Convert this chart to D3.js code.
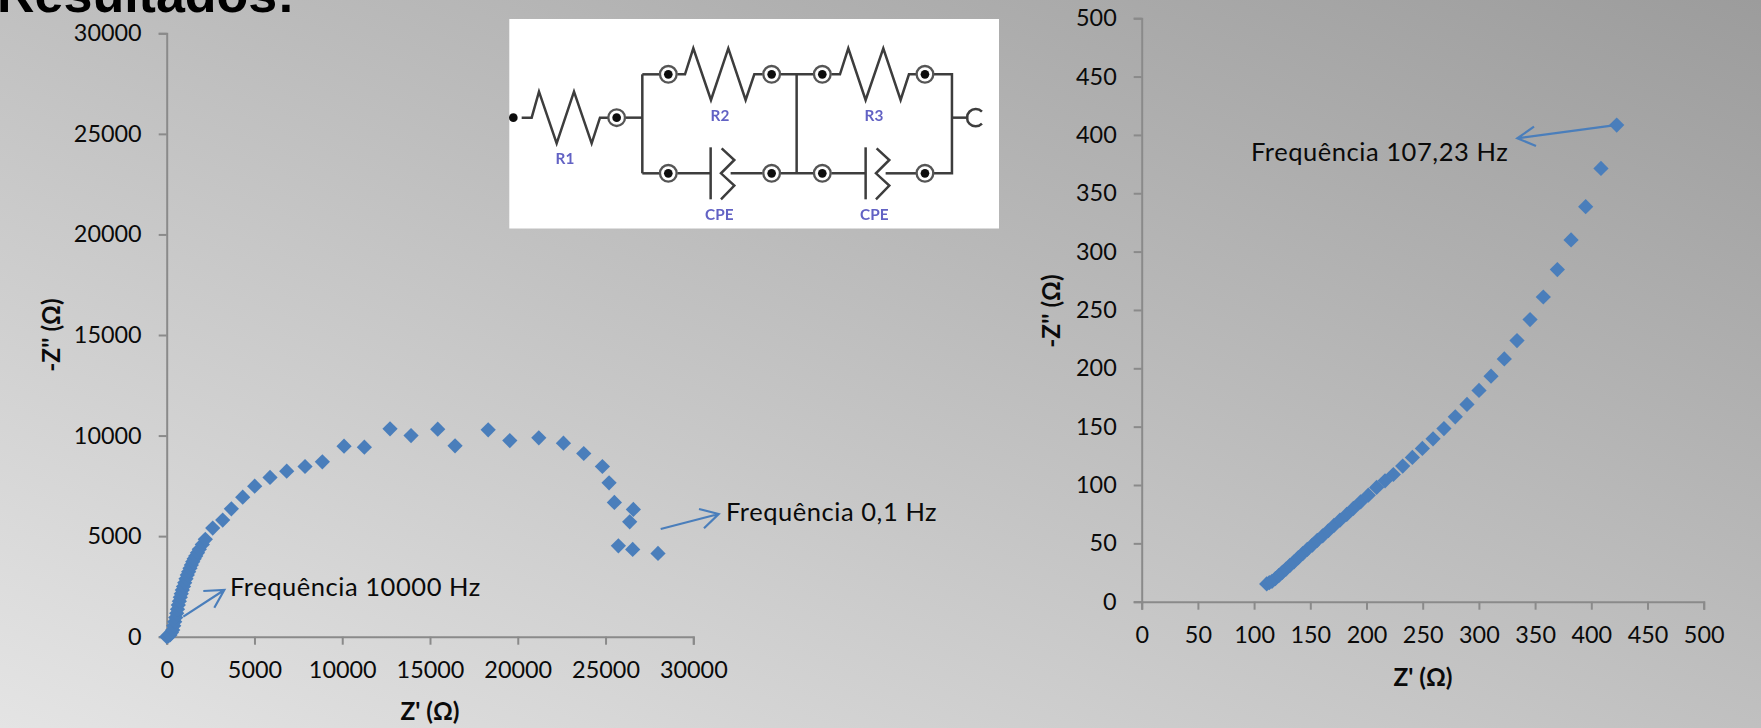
<!DOCTYPE html>
<html><head><meta charset="utf-8">
<script src="https://cdn.jsdelivr.net/npm/d3@7/dist/d3.min.js"></script>
<style>html,body{margin:0;padding:0;overflow:hidden;background:#bbb}svg{display:block}</style>
</head><body><svg id="c" width="1761" height="728"></svg>
<script>
// Left Nyquist plot (full range)
const leftZre = [0,100,190,270,342,400,456,515,570,615,661,720,775,830,889,958,1026,1100,1174,1250,1328,1405,1482,1565,1653,1755,1858,2030,2200,2622,3190,3684,4330,5013,5887,6837,7881,8868,10103,11261,12723,13920,15440,16427,18315,19547,21198,22602,23759,24821,25201,25504,26585,26377,25732,26547,27989];
const leftZim = [0,40,85,210,333,540,746,955,1163,1370,1575,1765,1958,2140,2321,2500,2684,2875,3066,3235,3400,3565,3727,3870,4011,4180,4344,4590,4841,5399,5796,6359,6939,7485,7916,8230,8462,8694,9472,9423,10333,10002,10317,9489,10284,9754,9886,9621,9108,8462,7651,6674,6326,5713,4521,4339,4140];
// Right Nyquist plot (high-frequency zoom)
const rightZre = [111.2,113.5,115.9,118.9,121.9,125.1,128.4,131.9,135.5,139.3,143.2,147.3,151.8,156.2,161,166,171.1,176.4,182.4,188.3,194.8,201.6,209,216.5,223.9,232.2,240.8,249.7,259.2,268.9,279,289.4,300.1,310.8,322.6,333.9,345.5,357.3,369.8,382,395,408.6,422.6];
const rightZim = [15.2,16.3,17.5,19.7,22.3,25.2,28,31.2,34.2,37.7,41.1,44.8,48.5,52.6,56.5,60.8,65.4,69.9,74.8,79.9,85.6,91.3,97.9,103.6,109,116.2,123.6,131.3,139.6,148.4,158.4,169,181,193.2,208,223.8,241.8,261.1,284.6,310,338.5,371.3,408.4];
const leftTicks = [0,5000,10000,15000,20000,25000,30000];
const rightTicks = [0,50,100,150,200,250,300,350,400,450,500];
const titleText = "Resultados:";
const xTitle = "Z' (Ω)";
const yTitle = "-Z'' (Ω)";
const notes = [
  {t:"Frequência 10000 Hz", x:230, y:595.5, line:[[183.3,616.7],[224.3,590]], head:[[203.3,591],[224.3,590],[214.3,607.7]]},
  {t:"Frequência 0,1 Hz", x:726, y:520.5, line:[[660.7,529],[718.7,514]], head:[[699,509],[718.7,514],[704,528.3]]},
  {t:"Frequência 107,23 Hz", x:1251, y:161, line:[[1611.7,125.7],[1517.3,138.3]], head:[[1534,126.7],[1517.3,138.3],[1536,146]]}
];

const FONT = "Lato, 'Open Sans', sans-serif";
const svg = d3.select("#c");
const defs = svg.append("defs");
const g = defs.append("linearGradient").attr("id","bg").attr("x1",0).attr("y1",1).attr("x2",1).attr("y2",0);
g.append("stop").attr("offset",0).attr("stop-color","#e4e4e4");
g.append("stop").attr("offset",1).attr("stop-color","#9c9c9c");
defs.append("filter").attr("id","soft").append("feGaussianBlur").attr("stdDeviation",1.6);
svg.append("rect").attr("width",1761).attr("height",728).attr("fill","url(#bg)");

svg.append("text").attr("x",-3).attr("y",12).text(titleText)
  .attr("font-family","'Liberation Sans',Arial,sans-serif").attr("font-weight",700).attr("font-size",52).attr("fill","#000");

function plot(xs, ys, ticks, r) {
  const x = d3.scaleLinear().domain([0,ticks[ticks.length-1]]).range(r.x);
  const y = d3.scaleLinear().domain([0,ticks[ticks.length-1]]).range(r.y);
  const ax = svg.append("g").attr("transform",`translate(0,${r.y[0]})`)
    .call(d3.axisBottom(x).tickValues(ticks).tickFormat(d3.format("d")).tickSize(8).tickPadding(17));
  const ay = svg.append("g").attr("transform",`translate(${r.x[0]},0)`)
    .call(d3.axisLeft(y).tickValues(ticks).tickFormat(d3.format("d")).tickSize(8).tickPadding(17));
  [ax,ay].forEach(a=>{
    a.selectAll("path,line").attr("stroke","#8a8a8a").attr("stroke-width",2);
    a.selectAll("text").attr("font-family",FONT).attr("font-size",r.fs).attr("fill","#0a0a0a");
  });
  const sym = d3.symbol().type(d3.symbolSquare).size(r.ms);
  svg.append("g").selectAll("path").data(xs).join("path")
    .attr("d",sym)
    .attr("fill","#4a7ebb")
    .attr("transform",(d,i)=>`translate(${x(d)},${y(ys[i])}) rotate(45)`);
  svg.append("text").text(xTitle).attr("x",r.xt[0]).attr("y",r.xt[1]).attr("text-anchor","middle")
    .attr("font-family",FONT).attr("font-weight",700).attr("font-size",24.4).attr("fill","#0a0a0a");
  svg.append("text").text(yTitle).attr("transform",`translate(${r.yt[0]},${r.yt[1]}) rotate(-90)`).attr("text-anchor","middle")
    .attr("font-family",FONT).attr("font-weight",700).attr("font-size",24.4).attr("fill","#0a0a0a");
}
plot(leftZre,leftZim,leftTicks,{x:[166.7,693.3],y:[636.7,33.3],fs:23.4,ms:116,xt:[430,720],yt:[59.5,335]});
plot(rightZre,rightZim,rightTicks,{x:[1141.7,1703.7],y:[601.7,18.2],fs:23.4,ms:116,xt:[1423,686],yt:[1059.5,311]});

// annotations
const ann = svg.append("g");
ann.selectAll("text").data(notes).join("text").text(d=>d.t).attr("x",d=>d.x).attr("y",d=>d.y)
  .attr("font-family",FONT).attr("font-size",25.5).attr("letter-spacing",0.55).attr("fill","#0a0a0a");
const ln = d3.line();
ann.selectAll("path.a").data(notes).join("path").attr("class","a").attr("d",d=>ln(d.line)+ln(d.head))
  .attr("fill","none").attr("stroke","#4a7ebb").attr("stroke-width",2.2);

// circuit inset
svg.append("rect").attr("x",509.3).attr("y",19).attr("width",489.7).attr("height",209.5).attr("fill","#fff");
const cir = svg.append("g").attr("transform","translate(490,10) scale(0.3333)").attr("filter","url(#soft)");
const wires = [
 [[95,323],[125,323],[147,245],[200,400],[252,245],[305,400],[330,323],[355,323]],
 [[407,323],[457,323]],[[457,193],[457,490]],
 [[457,193],[510,193]],[[562,193],[585,193],[610,115],[663,270],[715,115],[767,270],[793,193],[818,193]],
 [[872,193],[972,193]],[[1024,193],[1050,193],[1075,115],[1127,270],[1180,115],[1232,270],[1257,193],[1280,193]],
 [[1332,193],[1386,193],[1386,490],[1332,490]],[[1386,323],[1435,323]],[[920,193],[920,490]],
 [[457,490],[510,490]],[[562,490],[660,490]],[[662,412],[662,568]],
 [[695,415],[733,450],[693,490],[733,527],[693,568]],[[722,490],[818,490]],
 [[872,490],[972,490]],[[1024,490],[1127,490]],[[1127,412],[1127,568]],
 [[1160,415],[1198,450],[1158,490],[1198,527],[1158,568]],[[1187,490],[1280,490]]
];
cir.selectAll("path.w").data(wires).join("path").attr("class","w").attr("d",d=>ln(d)).attr("fill","none").attr("stroke","#3c3c3c").attr("stroke-width",7.5);
cir.append("path").attr("d","M1476,305A26,26 0 1 0 1476,341").attr("fill","none").attr("stroke","#3c3c3c").attr("stroke-width",7.5);
cir.append("circle").attr("cx",70).attr("cy",323).attr("r",13).attr("fill","#111");
const terms = [[380,323],[535,193],[845,193],[997,193],[1305,193],[535,490],[845,490],[997,490],[1305,490]];
cir.selectAll("circle.o").data(terms).join("circle").attr("class","o").attr("cx",d=>d[0]).attr("cy",d=>d[1]).attr("r",25).attr("fill","#fff").attr("stroke","#555").attr("stroke-width",7);
cir.selectAll("circle.i").data(terms).join("circle").attr("class","i").attr("cx",d=>d[0]).attr("cy",d=>d[1]).attr("r",13).attr("fill","#111");
const labs = [["R1",225,462],["R2",690,332],["R3",1152,332],["CPE",688,630],["CPE",1153,630]];
cir.selectAll("text").data(labs).join("text").text(d=>d[0]).attr("x",d=>d[1]).attr("y",d=>d[2]).attr("text-anchor","middle")
  .attr("font-family",FONT).attr("font-weight",700).attr("font-size",46).attr("fill","#6262c4");
</script></body></html>
